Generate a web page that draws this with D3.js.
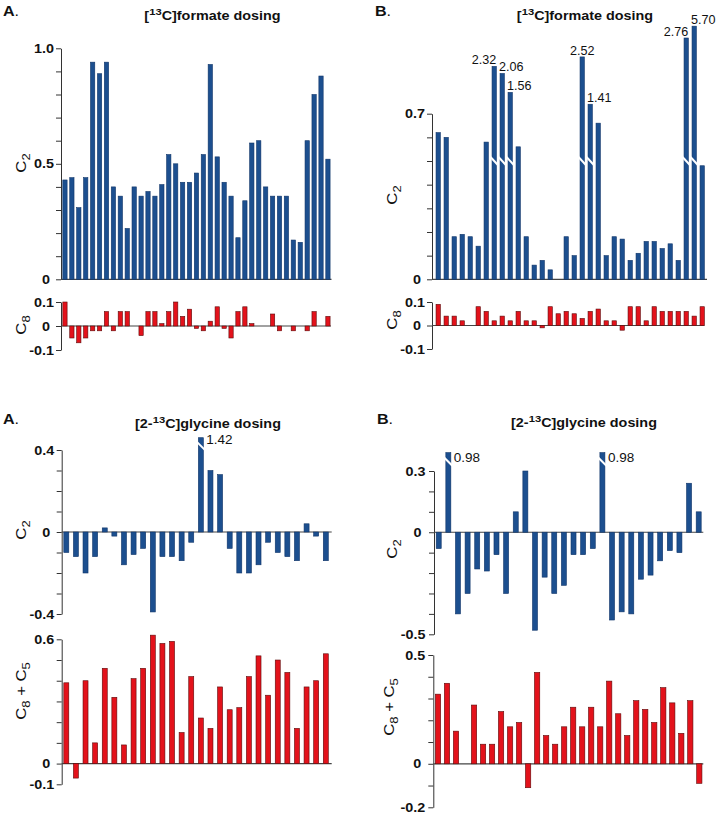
<!DOCTYPE html>
<html lang="en">
<head>
<meta charset="UTF-8">
<script src="https://d3js.org/d3.v7.min.js"></script>
<title>13C label distribution</title>
<style>
  body { margin: 0; background: #fff; }
</style>
</head>
<body>
<script>

// ---- data ----
// [13C]formate dosing, panel A (39 samples)
var fA_c2 = [0.43, 0.44, 0.31, 0.44, 0.94, 0.89, 0.94, 0.40, 0.36, 0.22,
             0.40, 0.36, 0.38, 0.36, 0.41, 0.54, 0.50, 0.42, 0.42, 0.46,
             0.54, 0.93, 0.53, 0.42, 0.36, 0.18, 0.34, 0.59, 0.60, 0.40,
             0.36, 0.36, 0.36, 0.17, 0.16, 0.60, 0.80, 0.88, 0.52];
var fA_c8 = [0.10, -0.05, -0.07, -0.05, -0.02, -0.02, 0.06, -0.02, 0.06, 0.06,
             0, -0.04, 0.06, 0.06, 0.01, 0.06, 0.10, 0.04, 0.07, -0.01,
             -0.02, 0.02, 0.08, -0.01, -0.05, 0.06, 0.08, 0.01, 0, 0,
             0.05, -0.02, 0, -0.02, 0, -0.02, 0.06, 0, 0.04];

// [13C]formate dosing, panel B (34 samples); off-scale bars hold their drawn height
var fB_c2 = [0.62, 0.60, 0.18, 0.19, 0.18, 0.14, 0.58, 0.90, 0.87, 0.79,
             0.56, 0.18, 0.06, 0.08, 0.04, 0, 0.18, 0.10, 0.94, 0.74,
             0.66, 0.10, 0.18, 0.17, 0.08, 0.11, 0.16, 0.16, 0.13, 0.15,
             0.08, 1.02, 1.07, 0.48];
var fB_c8 = [0.09, 0.04, 0.04, 0.02, 0, 0.08, 0.06, 0.02, 0.04, 0.02,
             0.06, 0.02, 0.02, -0.01, 0.08, 0.05, 0.06, 0.05, 0.03, 0.06,
             0.07, 0.02, 0.02, -0.02, 0.08, 0.08, 0.02, 0.08, 0.06, 0.06,
             0.06, 0.06, 0.04, 0.08];
var fB_broken = [7, 8, 9, 18, 19, 31, 32];
var fB_true = ["2.32", "2.06", "1.56", "2.52", "1.41", "2.76", "5.70"];
var fB_anchor = ["end", "start", "start", "middle", "start", "end", "start"];

// [2-13C]glycine dosing, panel A (28 samples)
var gA_c2 = [-0.10, -0.12, -0.20, -0.12, 0.02, -0.02, -0.16, -0.11, -0.08, -0.39,
             -0.12, -0.12, -0.14, -0.05, 0.46, 0.30, 0.28, -0.08, -0.20, -0.20,
             -0.16, -0.05, -0.10, -0.12, -0.14, 0.04, -0.02, -0.14];
var gA_c85 = [0.39, -0.07, 0.40, 0.10, 0.46, 0.32, 0.09, 0.41, 0.46, 0.62,
              0.58, 0.59, 0.15, 0.42, 0.22, 0.17, 0.37, 0.26, 0.27, 0.42,
              0.52, 0.33, 0.50, 0.44, 0.17, 0.37, 0.40, 0.53];
var gA_broken = [14];
var gA_true = ["1.42"];

// [2-13C]glycine dosing, panel B (28 / 30 samples)
var gB_c2 = [-0.08, 0.39, -0.40, -0.30, -0.18, -0.19, -0.11, -0.30, 0.10, 0.30,
             -0.48, -0.22, -0.30, -0.26, -0.11, -0.11, -0.08, 0.39, -0.43, -0.39,
             -0.40, -0.23, -0.21, -0.14, -0.09, -0.10, 0.24, 0.10];
var gB_c85 = [0.32, 0.37, 0.15, 0, 0.27, 0.09, 0.09, 0.24, 0.17, 0.19,
              -0.11, 0.42, 0.13, 0.09, 0.17, 0.26, 0.17, 0.26, 0.17, 0.38,
              0.23, 0.13, 0.29, 0.25, 0.19, 0.35, 0.28, 0.14, 0.29, -0.09];
var gB_broken = [1, 17];
var gB_true = ["0.98", "0.98"];

// ---- drawing ----
var width = 717, height = 816;
var FONT = '"Liberation Sans", Arial, Helvetica, sans-serif';
var SX = 1.15; // text in the figure is a bit wide
var BLUE = "#1c4f8f", BLUE_EDGE = "#0f3468";
var RED = "#e3121b", RED_EDGE = "#5c0a0a";

var svg = d3.select("body").append("svg")
    .attr("width", width)
    .attr("height", height);

// text with optional sup/sub parts
function addText(parent, x, y, parts, o) {
    o = o || {};
    var size = o.size || 12;
    var sx = o.sx || SX;
    var t = parent.append("text")
        .attr("transform", "translate(" + x + "," + y + ")" + (o.rotate ? " rotate(" + o.rotate + ")" : "") + " scale(" + sx + ",1)")
        .attr("text-anchor", o.anchor || "start")
        .attr("font-size", size)
        .attr("font-weight", o.weight || "normal")
        .attr("font-family", FONT)
        .attr("fill", "#111");
    var shift = 0;
    parts.forEach(function(p) {
        var s = typeof p === "string" ? {t: p} : p;
        var target = s.sup ? -0.4 * size : s.sub ? 0.3 * size : 0;
        var ts = t.append("tspan").text(s.t).attr("dy", target - shift);
        if (s.sup || s.sub) ts.attr("font-size", size * 0.78);
        if (s.weight) ts.attr("font-weight", s.weight);
        shift = target;
    });
    return t;
}

function subplot(c) {
    var g = svg.append("g");
    var n = c.values.length;
    var x = d3.scaleBand().domain(d3.range(n)).range(c.xr)
        .paddingInner(c.pad).paddingOuter(c.pad / 2);
    var y = d3.scaleLinear().domain(c.domain).range(c.yr);

    var minor = d3.range(Math.round(c.domain[0] * 10), Math.round(c.domain[1] * 10) + 1)
        .map(function(k) { return k / 10; });
    var isLab = function(d) { return c.labelled.some(function(l) { return Math.abs(l - d) < 1e-6; }); };

    var axis = d3.axisLeft(y)
        .tickValues(minor)
        .tickSize(5)
        .tickSizeOuter(0)
        .tickFormat(function(d) { return isLab(d) ? (Math.abs(d) < 1e-6 ? "0" : d.toFixed(1)) : ""; });

    var ax = g.append("g")
        .attr("transform", "translate(" + c.axisX + ",0)")
        .call(axis);
    ax.select(".domain").attr("stroke", "#333");
    ax.selectAll(".tick line").attr("stroke", "#333");
    ax.selectAll(".tick text")
        .attr("font-size", 12.5)
        .attr("font-weight", "bold")
        .attr("font-family", FONT)
        .attr("fill", "#111")
        .attr("x", function(d) { return -(Math.abs(d) < 1e-6 ? c.gap + 4 : c.gap) / SX; })
        .attr("transform", "scale(" + SX + ",1)");

    // zero line
    g.append("line")
        .attr("x1", c.axisX).attr("x2", c.xEnd)
        .attr("y1", y(0)).attr("y2", y(0))
        .attr("stroke", "#444").attr("stroke-width", 1.2);

    g.selectAll(".bar")
        .data(c.values)
        .join("rect")
        .attr("class", "bar")
        .attr("x", function(d, i) { return x(i); })
        .attr("width", x.bandwidth())
        .attr("y", function(d) { return y(Math.max(0, d)); })
        .attr("height", function(d) { return Math.abs(y(d) - y(0)); })
        .attr("fill", c.fill)
        .attr("stroke", c.edge)
        .attr("stroke-width", 0.6);

    // broken (off-scale) bars: white slash and true value
    (c.broken || []).forEach(function(i, k) {
        var bx = x(i), bw = x.bandwidth(), yb = y(c.breakAt);
        g.append("line")
            .attr("x1", bx - 1.5).attr("y1", yb - 4)
            .attr("x2", bx + bw + 1.5).attr("y2", yb + 4)
            .attr("stroke", "#fff").attr("stroke-width", 2);
        var top = y(c.values[i]);
        if (c.labelMode === "above") {
            var a = c.anchors[k];
            var lx = a === "end" ? bx + bw : a === "middle" ? bx + bw / 2 : bx - 1;
            addText(g, lx, top - 2, [c.trueVals[k]], {anchor: a, size: 12, sx: 1.05});
        } else {
            addText(g, bx + bw + 3, top + c.labelDy, [c.trueVals[k]], {size: 12.5, sx: 1.08});
        }
    });

    addText(svg, c.titleX, c.titleY, c.title, {rotate: -90, anchor: "middle", size: 14.5});
}

// --- formate A ---
subplot({values: fA_c2, xr: [61.5, 331.4], pad: 0.38, axisX: 61, xEnd: 331.5, gap: 7,
         domain: [0, 1], yr: [279.3, 48.3], labelled: [0, 0.5, 1], fill: BLUE, edge: BLUE_EDGE,
         title: ["C", {t: "2", sub: true}], titleX: 26, titleY: 163});
subplot({values: fA_c8, xr: [61.5, 331.4], pad: 0.38, axisX: 61, xEnd: 331, gap: 7,
         domain: [-0.1, 0.1], yr: [350, 302], labelled: [-0.1, 0, 0.1], fill: RED, edge: RED_EDGE,
         title: ["C", {t: "8", sub: true}], titleX: 26, titleY: 325});

// --- formate B ---
subplot({values: fB_c2, xr: [434.2, 706.2], pad: 0.46, axisX: 432, xEnd: 707, gap: 7,
         domain: [0, 0.7], yr: [279.3, 113.7], labelled: [0, 0.7], fill: BLUE, edge: BLUE_EDGE,
         broken: fB_broken, trueVals: fB_true, anchors: fB_anchor, labelMode: "above", breakAt: 0.50,
         title: ["C", {t: "2", sub: true}], titleX: 397, titleY: 195});
subplot({values: fB_c8, xr: [434.2, 706.2], pad: 0.46, axisX: 432, xEnd: 704.5, gap: 7,
         domain: [-0.1, 0.1], yr: [349, 302], labelled: [-0.1, 0, 0.1], fill: RED, edge: RED_EDGE,
         title: ["C", {t: "8", sub: true}], titleX: 397, titleY: 320});

// --- glycine A ---
subplot({values: gA_c2, xr: [61.5, 330.6], pad: 0.48, axisX: 61.7, xEnd: 331.7, gap: 7.5,
         domain: [-0.4, 0.4], yr: [614, 450], labelled: [-0.4, 0, 0.4], fill: BLUE, edge: BLUE_EDGE,
         broken: gA_broken, trueVals: gA_true, labelMode: "beside", labelDy: 6.5, breakAt: 0.42,
         title: ["C", {t: "2", sub: true}], titleX: 26, titleY: 530});
subplot({values: gA_c85, xr: [61.5, 330.6], pad: 0.48, axisX: 61.7, xEnd: 331.7, gap: 7.5,
         domain: [-0.1, 0.6], yr: [784.3, 639.3], labelled: [-0.1, 0, 0.6], fill: RED, edge: RED_EDGE,
         title: ["C", {t: "8", sub: true}, " + C", {t: "5", sub: true}], titleX: 26, titleY: 691});

// --- glycine B ---
subplot({values: gB_c2, xr: [433.9, 703.5], pad: 0.48, axisX: 434, xEnd: 703.3, gap: 8.5,
         domain: [-0.5, 0.3], yr: [634.3, 471], labelled: [-0.5, 0, 0.3], fill: BLUE, edge: BLUE_EDGE,
         broken: gB_broken, trueVals: gB_true, labelMode: "beside", labelDy: 9, breakAt: 0.345,
         title: ["C", {t: "2", sub: true}], titleX: 397, titleY: 549});
subplot({values: gB_c85, xr: [433.5, 703.8], pad: 0.41, axisX: 433.3, xEnd: 703.3, gap: 8,
         domain: [-0.2, 0.5], yr: [807.3, 655], labelled: [-0.2, 0, 0.5], fill: RED, edge: RED_EDGE,
         title: ["C", {t: "8", sub: true}, " + C", {t: "5", sub: true}], titleX: 394, titleY: 707});

// panel titles and letters
addText(svg, 212.5, 20, ["[", {t: "13", sup: true}, "C]formate dosing"], {anchor: "middle", weight: "bold", size: 12.5});
addText(svg, 585, 20, ["[", {t: "13", sup: true}, "C]formate dosing"], {anchor: "middle", weight: "bold", size: 12.5});
addText(svg, 208, 428, ["[2-", {t: "13", sup: true}, "C]glycine dosing"], {anchor: "middle", weight: "bold", size: 12.5});
addText(svg, 584, 427, ["[2-", {t: "13", sup: true}, "C]glycine dosing"], {anchor: "middle", weight: "bold", size: 12.5});

addText(svg, 3, 16, [{t: "A", weight: "bold"}, "."], {size: 14});
addText(svg, 375, 16, [{t: "B", weight: "bold"}, "."], {size: 14});
addText(svg, 3, 424, [{t: "A", weight: "bold"}, "."], {size: 14});
addText(svg, 377, 424, [{t: "B", weight: "bold"}, "."], {size: 14});

</script>
</body>
</html>
